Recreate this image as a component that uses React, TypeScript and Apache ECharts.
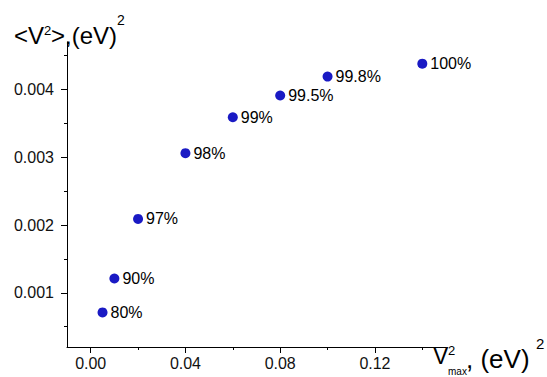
import React, { useEffect, useRef } from "react";
import * as echarts from "echarts";

const xValues = [0.005, 0.01, 0.02, 0.04, 0.06, 0.08, 0.1, 0.14];
const yValues = [0.00071, 0.00121, 0.00209, 0.00306, 0.00359, 0.00391, 0.00419, 0.00438];
const pointLabels = ["80%", "90%", "97%", "98%", "99%", "99.5%", "99.8%", "100%"];
const xTickValues = [0, 0.04, 0.08, 0.12];
const xMinorTicks = [0.02, 0.06, 0.1, 0.14];
const yTickValues = [0.001, 0.002, 0.003, 0.004];
const yMinorTicks = [0.0005, 0.0015, 0.0025, 0.0035, 0.0045];

const X_MIN = -0.01;
const X_MAX = 0.15;
const Y_MIN = 0.0002;
const Y_MAX = 0.0047;

const FONT = "'Liberation Sans', Arial, sans-serif";
const INK = "#000";

export default function App() {
  const ref = useRef<HTMLDivElement>(null);
  useEffect(() => {
    document.body.style.margin = "0";
    if (!ref.current) return;
    const chart = echarts.init(ref.current, null, { renderer: "svg" });
    const lineStyle = { color: "#000", width: 1 };
    const txt = (x: number, y: number, text: string, size: number) => ({
      type: "text",
      x,
      y,
      style: {
        text,
        fontSize: size,
        fontFamily: FONT,
        fill: INK,
        align: "left",
        verticalAlign: "middle",
      },
    });
    chart.setOption({
      animation: false,
      backgroundColor: "#fff",
      grid: { left: 67, right: 101, top: 42, bottom: 30, containLabel: false },
      xAxis: [
        {
          type: "value",
          min: X_MIN,
          max: X_MAX,
          position: "bottom",
          axisLine: { show: true, onZero: false, lineStyle },
          axisTick: { show: true, customValues: xTickValues, length: 6, lineStyle },
          axisLabel: {
            customValues: xTickValues,
            formatter: (v: number) => v.toFixed(2),
            fontSize: 16,
            fontFamily: FONT,
            color: "#111",
            margin: 8,
          },
          splitLine: { show: false },
        },
        {
          type: "value",
          min: X_MIN,
          max: X_MAX,
          position: "bottom",
          axisLine: { show: false, onZero: false },
          axisTick: { show: true, customValues: xMinorTicks, length: 3, lineStyle },
          axisLabel: { show: false },
          splitLine: { show: false },
        },
      ],
      yAxis: [
        {
          type: "value",
          min: Y_MIN,
          max: Y_MAX,
          position: "left",
          axisLine: { show: true, onZero: false, lineStyle },
          axisTick: { show: true, customValues: yTickValues, length: 6, lineStyle },
          axisLabel: {
            customValues: yTickValues,
            formatter: (v: number) => v.toFixed(3),
            fontSize: 16,
            fontFamily: FONT,
            color: "#111",
            margin: 13,
          },
          splitLine: { show: false },
        },
        {
          type: "value",
          min: Y_MIN,
          max: Y_MAX,
          position: "left",
          axisLine: { show: false, onZero: false },
          axisTick: { show: true, customValues: yMinorTicks, length: 3, lineStyle },
          axisLabel: { show: false },
          splitLine: { show: false },
        },
      ],
      series: [
        {
          type: "scatter",
          xAxisIndex: 0,
          yAxisIndex: 0,
          symbol: "circle",
          symbolSize: 10,
          itemStyle: { color: "#1a1ac4", opacity: 1 },
          data: xValues.map((x, i) => [x, yValues[i]]),
          label: {
            show: true,
            position: "right",
            distance: 3,
            formatter: (p: any) => pointLabels[p.dataIndex],
            fontSize: 16,
            fontFamily: FONT,
            color: INK,
          },
        },
      ],
      graphic: [
        txt(14, 35, "<V", 24),
        txt(44, 30.5, "2", 13),
        txt(51, 35, ">,(eV)", 24),
        txt(117, 20, "2", 14),
        txt(433, 355.5, "V", 23),
        txt(448, 350.5, "2", 13),
        txt(448, 371, "max", 10),
        txt(466, 358.5, ", (eV)", 26),
        txt(536, 343, "2", 15),
      ],
    });
    return () => chart.dispose();
  }, []);
  return <div ref={ref} style={{ width: 547, height: 377 }} />;
}
